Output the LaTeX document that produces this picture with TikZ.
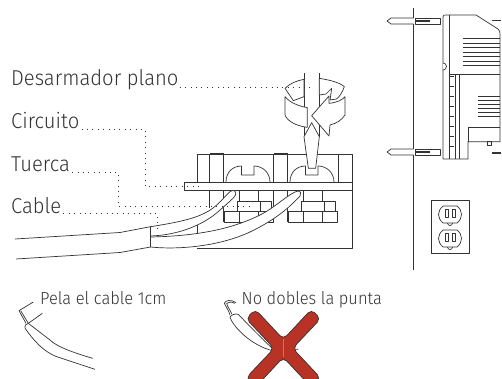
\documentclass[tikz,border=0pt]{standalone}
\usepackage{fontspec}
\setmainfont{Fira Sans Light}[FakeStretch=0.94]
\definecolor{ink}{HTML}{333333}
\definecolor{redx}{HTML}{B93226}
\tikzset{
 x=1pt,y=-1pt,
 ln/.style={draw=ink,line width=0.7pt,line join=round},
 wln/.style={ln,fill=white},
 dots/.style={draw=ink,line width=0.7pt,dash pattern=on 0.8pt off 4.6pt},
 lab/.style={text=ink,font=\fontsize{21.5}{23}\selectfont,inner sep=0pt,anchor=base west},
 small/.style={text=ink,font=\fontsize{17.5}{19}\selectfont,inner sep=0pt,anchor=base west},
 zoomed/.style={scale=1/3},
}
\begin{document}
\begin{tikzpicture}
\useasboundingbox (0,0) rectangle (502,379);
\clip (0,0) rectangle (502,379);
% labels
\node[lab] (des) at (11,86) {Desarmador plano};
\node[lab] (cir) at (11,129) {Circuito};
\node[lab] (tue) at (11,171.5) {Tuerca};
\node[lab] (cab) at (11,213) {Cable};
\node[small] (pela) at (40,304) {Pela el cable 1cm};
\node[small] (nod) at (241.5,304) {No dobles la punta};
% terminal block
\draw[ln] (197,182) -- (197,154) -- (352,154) -- (352,248) -- (197,248);
\draw[ln] (197,221) -- (197,233);
\foreach \o in {0,64}{
 \begin{scope}[xshift=\o]
 \draw[ln] (209.5,182) -- (209.5,154) (223.5,182) -- (223.5,154);
 \draw[ln,line width=1.4pt] (209.5,154) -- (223.5,154);
 \draw[ln] (209.5,190) -- (209.5,208) (223.5,190) -- (223.5,222);
 \draw[ln] (226,182) .. controls (226,172) and (233,166) .. (241.5,166) -- (241.5,175) -- (254,175) -- (254,166) .. controls (262,166) and (270,172) .. (270,182);
 \draw[ln] (239,190) -- (239,201.7) (258,190) -- (258,201.7);
 \draw[ln] (237,201.7) rectangle (271.7,211) (260,201.7) -- (260,211);
 \draw[ln] (224,211) rectangle (273,222) (239,211) -- (239,222) (258,211) -- (258,222);
 \end{scope}
}
\draw[ln] (338,154) -- (338,182);
\draw[wln] (184.5,182.5) rectangle (352,190);
% cables
\draw[wln] (150.5,226.7) .. controls (180,222) and (200,218) .. (213,208) .. controls (220,203) and (225,196) .. (230,191.7) .. controls (233,189) and (237,191) .. (235.5,195) .. controls (235,197) and (228,203) .. (220,210) .. controls (205,224) and (180,235) .. (150.5,236) -- cycle;
\draw[wln] (150.5,237) .. controls (200,236) and (235,228) .. (262,214) .. controls (275,207) and (285,197) .. (295,192) .. controls (299,190) and (302,191) .. (300,196) .. controls (290,207) and (275,220) .. (250,232) .. controls (220,246) and (180,250) .. (150.5,247) -- cycle;
\draw[ln] (15,239) -- (120,232.5) -- (150.5,226.7) -- (150.5,247) -- (120,252.5) -- (16,259);
% screwdriver
\begin{scope}[shift={(265,70)},zoomed]
 \draw[ln] (117,10) -- (117,200) (163,10) -- (163,200);
 \draw[wln] (117,200) -- (140,158) -- (163,200) -- (152,295) -- (130,295) -- cycle;
 \draw[wln] (60,55) .. controls (75,40) and (95,32) .. (117,28) -- (117,80) -- (85,92) -- cycle;
 \draw[wln] (163,25) .. controls (195,30) and (225,38) .. (238,50) .. controls (233,65) and (225,78) .. (215,87) -- (195,90) -- (200,55) -- (183,72) -- (163,75) -- cycle;
 \draw[wln] (60,80) .. controls (75,98) and (100,108) .. (127,113) -- (127,172) .. controls (95,168) and (68,155) .. (60,135) -- cycle;
 \draw[wln] (140,137) -- (192,78) -- (192,100) .. controls (215,98) and (232,90) .. (240,80) -- (240,135) .. controls (230,150) and (215,160) .. (195,165) -- (192,198) -- cycle;
\end{scope}
% Leaders
\coordinate (dE) at (310,87);
\coordinate (c1) at (145,129.7); \coordinate (c2) at (145,186); \coordinate (cE) at (200,186);
\coordinate (t1) at (118,172); \coordinate (t2) at (118,206); \coordinate (tE) at (250,206);
\coordinate (k1) at (157,213.5); \coordinate (kE) at (157,232);
\draw[dots] (des.base east)++(1,1) -- (dE);
\draw[dots] (cir.base east)++(2,0.7) -- (c1) -- (c2) -- (cE);
\draw[dots] (tue.base east)++(2,0.5) -- (t1) -- (t2) -- (tE);
\draw[dots] (cab.base east)++(2,0.5) -- (k1) -- (kE);
% wall + device
\draw[ln] (413.5,8) -- (413.5,18) (413.5,24) -- (413.5,149) (413.5,155) -- (413.5,270);
\draw[wln] (443,17) .. controls (443,15) and (444,15) .. (446,15) -- (476,15) -- (498,29) .. controls (500,31) and (500,32) .. (500,35) -- (500,141.7) -- (468,141.7) -- (468,159) -- (443,159) -- cycle;
\draw[ln,line width=1.2pt] (449.5,15) -- (449.5,159);
\draw[ln] (455,75) -- (455,159) (459,75) -- (459,159);
\draw[ln] (449,74) -- (500,74) (500,127) -- (468,127) -- (468,141.7);
\draw[wln] (443,63) arc[start angle=-90,end angle=90,radius=3.5];
\foreach \y in {39,43.5,...,67}{\draw[ln,line width=1pt] (463,\y) -- (500,\y);}
\foreach \y in {97,101,...,120}{\draw[ln,line width=1pt] (478,\y) -- (500,\y);}
\foreach \y in {77,87,...,155}{\draw[ln,line width=1pt] (450,\y) -- (454,\y);}
\draw[ln] (487,141.7) rectangle (491,145.5);
\foreach \y in {18,149}{
 \draw[ln] (413.5,\y) -- (391,\y) -- (387,\y+3) -- (391,\y+6) -- (413.5,\y+6);
 \draw[wln] (415.5,\y) rectangle (440,\y+6);
 \draw[ln,line width=2pt] (416,\y+3) -- (430,\y+3);
}
\draw[ln,line width=1.1pt] (492,20.5) -- (501,20.5) (492,153) -- (501,153);
% outlet
\draw[ln] (431,200) rectangle (469,253);
\foreach \y in {206,230}{
 \draw[ln] (443,\y) -- (457,\y) .. controls (463,\y+5) and (463,\y+12) .. (457,\y+17) -- (443,\y+17) .. controls (437,\y+12) and (437,\y+5) .. (443,\y) -- cycle;
 \draw[ln,line width=1pt] (445.5,\y+3) rectangle (448,\y+11) (452.5,\y+3) rectangle (455,\y+11);
 \draw[ln] (447.5,\y+17) arc[start angle=180,end angle=0,radius=2.5];
}
% lower wires
\begin{scope}[shift={(0,270)},zoomed]
 \draw[ln] (100,96) -- (57,122) -- (78,160);
 \draw[ln] (62,122) -- (85,160) -- (127,130);
 \draw[ln] (85,160) .. controls (78,160) and (72,168) .. (76,176) .. controls (100,210) and (130,245) .. (170,260) -- (285,298);
 \draw[ln] (85,160) -- (150,210) .. controls (170,230) and (220,248) .. (278,265);
 \draw[ln] (690,135) .. controls (688,125) and (675,105) .. (673,100) .. controls (675,90) and (695,88) .. (708,98);
 \draw[ln] (695,132) .. controls (692,122) and (682,110) .. (680,100) .. controls (685,95) and (695,95) .. (705,100);
 \draw[ln] (690,142) .. controls (692,135) and (705,130) .. (715,133) .. controls (750,170) and (790,210) .. (820,238);
 \draw[ln] (690,142) .. controls (700,170) and (750,225) .. (820,243) (880,238) -- (895,238);
 \draw[draw=ink,fill=redx,line width=0.7pt,line join=round,rounded corners=5pt] (850,208) -- (766,118) -- (738,146) -- (822,235) -- (738,324) -- (766,352) -- (850,262) -- (934,352) -- (962,324) -- (878,235) -- (962,146) -- (934,118) -- cycle;
 \draw[redx!70!white,line width=0.4pt] (850,208) -- (850,262);
\end{scope}
\end{tikzpicture}
\end{document}
